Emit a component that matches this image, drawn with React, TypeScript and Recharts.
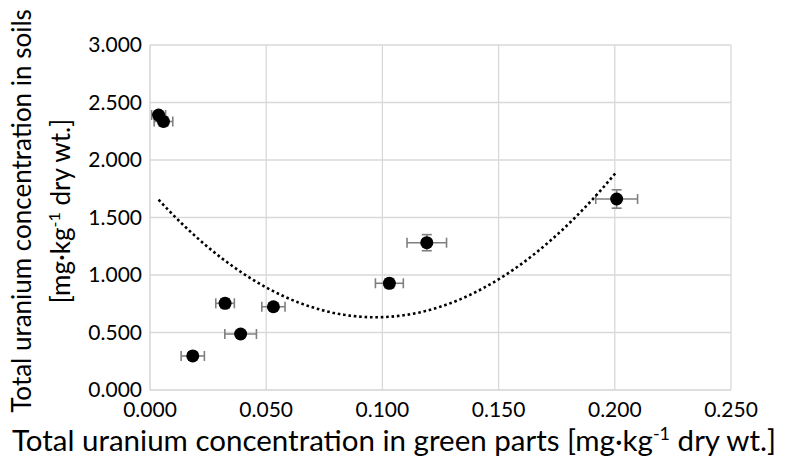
import React from 'react'
import { ScatterChart, Scatter, XAxis, YAxis, CartesianGrid, ErrorBar, Label } from 'recharts'

// uranium in green parts (x) vs soils (y), mg·kg-1 dry wt.
const greenParts = [0.0037, 0.0058, 0.0184, 0.0323, 0.039, 0.0531, 0.103, 0.1191, 0.2008]
const soils = [2.391, 2.335, 0.296, 0.754, 0.487, 0.724, 0.928, 1.281, 1.661]
const greenErr = [0.003, 0.004, 0.005, 0.004, 0.0068, 0.005, 0.006, 0.0085, 0.009]
const soilErr = [0.03, 0.04, 0.03, 0.04, 0.03, 0.03, 0.04, 0.07, 0.08]

const xTicks = [0, 0.05, 0.1, 0.15, 0.2, 0.25]
const yTicks = [0, 0.5, 1, 1.5, 2, 2.5, 3]

const FONT = 'Lato, "Open Sans", sans-serif'

const points = greenParts.map((x, i) => ({ x, y: soils[i], xErr: greenErr[i], yErr: soilErr[i] }))

// 2nd order polynomial trendline, least squares
function fitQuadratic(xs: number[], ys: number[]) {
  const s = [0, 0, 0, 0, 0]
  const t = [0, 0, 0]
  xs.forEach((x, i) => {
    for (let k = 0; k < 5; k++) s[k] += Math.pow(x, k)
    for (let k = 0; k < 3; k++) t[k] += ys[i] * Math.pow(x, k)
  })
  const m = [
    [s[0], s[1], s[2], t[0]],
    [s[1], s[2], s[3], t[1]],
    [s[2], s[3], s[4], t[2]],
  ]
  for (let c = 0; c < 3; c++) {
    for (let r = c + 1; r < 3; r++) {
      const f = m[r][c] / m[c][c]
      for (let k = c; k < 4; k++) m[r][k] -= f * m[c][k]
    }
  }
  const out = [0, 0, 0]
  for (let r = 2; r >= 0; r--) {
    let v = m[r][3]
    for (let k = r + 1; k < 3; k++) v -= m[r][k] * out[k]
    out[r] = v / m[r][r]
  }
  return out
}

const coef = fitQuadratic(greenParts, soils)
const xMin = Math.min(...greenParts)
const xMax = Math.max(...greenParts)
const trend = Array.from({ length: 80 }, (_, i) => {
  const x = xMin + ((xMax - xMin) * i) / 79
  return { x, y: coef[0] + coef[1] * x + coef[2] * x * x }
})

const Dot = (props: any) => <circle cx={props.cx} cy={props.cy} r={6.5} fill="#000" />

const xTitle = () => (
  <text x={394} y={451} textAnchor="middle" fontFamily={FONT} fontSize={29.5} fill="#000">
    Total uranium concentration in green parts [mg·kg
    <tspan dy={-11} fontSize={18}>-1</tspan>
    <tspan dy={11}> dry wt.]</tspan>
  </text>
)

const yTitle = () => (
  <g transform="translate(0,211) rotate(-90)" fontFamily={FONT} fontSize={26} fill="#000">
    <text x={0} y={31} textAnchor="middle">Total uranium concentration in soils</text>
    <text x={0} y={70} textAnchor="middle">
      [mg·kg
      <tspan dy={-10} fontSize={16}>-1</tspan>
      <tspan dy={10}> dry wt.]</tspan>
    </text>
  </g>
)

export default function App() {
  return (
    <div style={{ position: 'absolute', left: 0, top: 0, background: '#fff' }}>
      <ScatterChart width={786} height={465} margin={{ top: 45, right: 55, left: 0, bottom: 0 }}>
        <CartesianGrid stroke="#d9d9d9" strokeWidth={1.3} />
        <XAxis
          type="number"
          dataKey="x"
          domain={[0, 0.25]}
          ticks={xTicks}
          tickFormatter={(v: number) => v.toFixed(3)}
          tick={{ fill: '#000', fontSize: 21, fontFamily: FONT }}
          tickLine={false}
          tickMargin={6}
          axisLine={{ stroke: '#d9d9d9' }}
          height={75}
          interval={0}
        >
          <Label content={xTitle} />
        </XAxis>
        <YAxis
          type="number"
          dataKey="y"
          domain={[0, 3]}
          ticks={yTicks}
          tickFormatter={(v: number) => v.toFixed(3)}
          tick={{ fill: '#000', fontSize: 21, fontFamily: FONT }}
          tickLine={false}
          axisLine={{ stroke: '#d9d9d9' }}
          width={150}
          interval={0}
        >
          <Label content={yTitle} />
        </YAxis>
        <Scatter
          data={trend}
          isAnimationActive={false}
          line={{ stroke: '#000', strokeWidth: 2.6, strokeDasharray: '2.6 2.8' }}
          lineType="joint"
          shape={() => <g />}
        />
        <Scatter data={points} isAnimationActive={false} shape={Dot}>
          <ErrorBar dataKey="xErr" direction="x" width={5} stroke="#7f7f7f" strokeWidth={1.6} />
          <ErrorBar dataKey="yErr" direction="y" width={5} stroke="#7f7f7f" strokeWidth={1.6} />
        </Scatter>
      </ScatterChart>
    </div>
  )
}
